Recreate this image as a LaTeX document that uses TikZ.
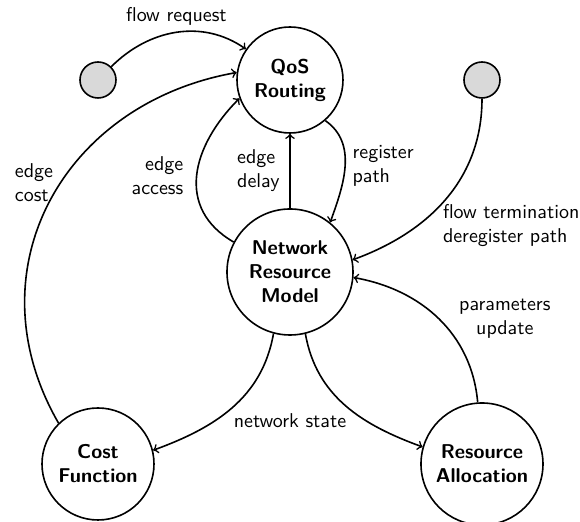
\documentclass[tikz,border=0pt]{standalone}
\usepackage{amssymb,amsmath}
\usepackage{color}
\usetikzlibrary{shapes, shapes.misc}
\usetikzlibrary{arrows}
\usetikzlibrary{calc}

\begin{document}
\begin{tikzpicture}[node distance=96pt,
        block/.style={draw, circle, thick, align=center, inner sep=1pt, font=\sffamily\bfseries},
        src/.style={draw, circle, thick, fill=gray!30, minimum size=18pt, inner sep=0pt},
        lbl/.style={font=\sffamily, align=left},
        conn/.style={thick, ->}]
        \useasboundingbox (-145pt,40pt) rectangle (145pt,-221pt);
        \node[block, minimum size=53pt] (QoS) {QoS\\Routing};
        \node[block, minimum size=63pt, below of=QoS] (NRM) {Network\\Resource\\Model};
        \node[block, minimum size=56pt, below of=NRM, xshift=-96pt] (CF) {Cost\\Function};
        \node[block, minimum size=61pt, below of=NRM, xshift=+96pt] (RA) {Resource\\Allocation};
        \node[src, left of=QoS] (inL) {};
        \node[src, right of=QoS] (inR) {};
        \node[lbl, below of=NRM, node distance=74.5pt] (state) {network state};
        \draw[conn] (inL) to[out=45, in=145] node[lbl, above] {flow request} (QoS);
        \draw[conn] (CF.134) to[out=120, in=190, looseness=1.15] node[lbl, pos=0.55, left] {edge\\cost} (QoS.172);
        \draw[conn] (NRM.152) to[out=150, in=225, looseness=1.2] node[lbl, left=3pt, align=right] {edge\\access} (QoS.200);
        \draw[conn] (NRM) -- node[lbl, left=1.5pt] {edge\\delay} (QoS);
        \draw[conn] (QoS.-49) to[out=-35, in=70] node[lbl, right] {register\\path} (NRM.51);
        \draw[conn] (inR) to[out=-90, in=20] node[lbl, pos=0.68, right=9pt] {flow termination\\deregister path} (NRM.11);
        \draw[conn] (RA.94) to[out=95, in=-10] node[lbl, right=6.5pt, align=center] {parameters\\update} (NRM.-5);
        \draw[conn] (NRM.255) to[out=-100, in=20] (CF.14);
        \draw[conn] (NRM.-76) to[out=-80, in=160] (RA.164);
\end{tikzpicture}
\end{document}
